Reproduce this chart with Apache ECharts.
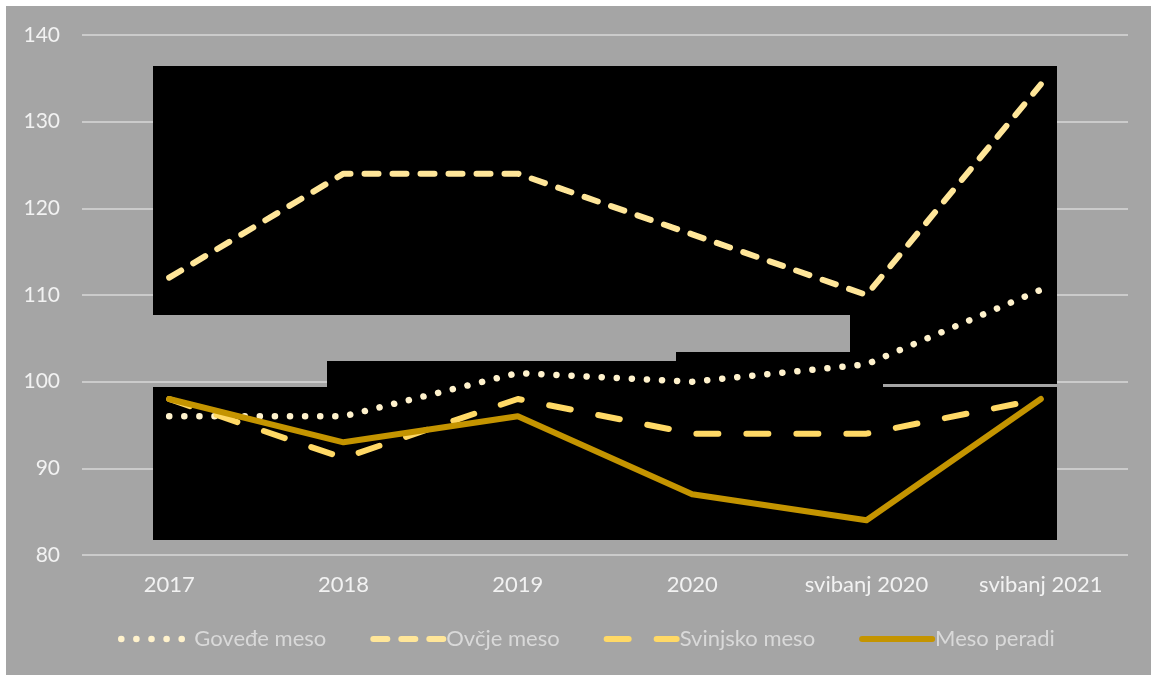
<!DOCTYPE html>
<html>
<head>
<meta charset="utf-8">
<script src="https://cdn.jsdelivr.net/npm/echarts@6/dist/echarts.min.js"></script>
<style>
html,body{margin:0;padding:0;background:#ffffff;width:1151px;height:675px;overflow:hidden;}
#chart{position:absolute;left:6px;top:6px;width:1145px;height:669px;}
</style>
</head>
<body>
<div id="chart"></div>
<script>
var categories = ['2017', '2018', '2019', '2020', 'svibanj 2020', 'svibanj 2021'];
var govedjeMeso = [96, 96, 101, 100, 102, 110.6];
var ovcjeMeso = [112, 124, 124, 117, 110, 134.3];
var svinjskoMeso = [98, 91.2, 98, 94, 94, 98];
var mesoPeradi = [98, 93, 96, 87, 84, 98];
var yTicks = { min: 80, max: 140, interval: 10 };

var FONT = 'Lato, "Open Sans", sans-serif';

// decorative black panels seen behind the lines in the reference (pixel boxes: x1,y1,x2,y2)
var panels = [
  [147, 60, 1051, 309],
  [321, 355, 670, 382],
  [670, 346, 844, 382],
  [844, 309, 877, 382],
  [877, 309, 1051, 378],
  [147, 381, 1051, 534]
];

var styles = {
  'Goveđe meso':   { color: '#fff2cc', width: 6.5, type: [0.1, 15] },
  'Ovčje meso':    { color: '#ffe699', width: 6,   type: [14, 14] },
  'Svinjsko meso': { color: '#ffd966', width: 6,   type: [22, 28] },
  'Meso peradi':   { color: '#c49400', width: 6,   type: 'solid' }
};

var chart = echarts.init(document.getElementById('chart'), null, { renderer: 'canvas' });

function line(name, data) {
  var s = styles[name];
  return {
    name: name,
    type: 'line',
    data: data,
    symbol: 'none',
    smooth: false,
    z: 5,
    lineStyle: { color: s.color, width: s.width, type: s.type, cap: 'round', join: 'round' },
    itemStyle: { color: s.color },
    emphasis: { disabled: true }
  };
}

var legendNames = ['Goveđe meso', 'Ovčje meso', 'Svinjsko meso', 'Meso peradi'];

chart.setOption({
  backgroundColor: '#a5a5a5',
  animation: false,
  grid: { left: 76, right: 23, top: 29, bottom: 120, containLabel: false },
  graphic: panels.map(function (p) {
    return {
      type: 'rect',
      z: 1,
      silent: true,
      shape: { x: p[0], y: p[1], width: p[2] - p[0], height: p[3] - p[1] },
      style: { fill: '#000000' }
    };
  }),
  legend: {
    left: 107,
    bottom: 20,
    itemWidth: 70,
    itemHeight: 8,
    itemGap: 44,
    itemStyle: { opacity: 0 },
    textStyle: { color: '#d9d9d9', fontSize: 22, fontFamily: FONT, padding: [0, 0, 0, -2] },
    data: legendNames.map(function (n) {
      var s = styles[n];
      return {
        name: n,
        itemStyle: { opacity: 0 },
        lineStyle: { color: s.color, width: s.width, type: s.type, cap: 'round', opacity: 1 }
      };
    })
  },
  xAxis: {
    type: 'category',
    data: categories,
    boundaryGap: true,
    axisLine: { show: false },
    axisTick: { show: false },
    axisLabel: { color: '#f2f2f2', fontSize: 22, fontFamily: FONT, margin: 19 }
  },
  yAxis: {
    type: 'value',
    min: yTicks.min,
    max: yTicks.max,
    interval: yTicks.interval,
    axisLine: { show: false },
    axisTick: { show: false },
    axisLabel: { color: '#f2f2f2', fontSize: 21, fontFamily: FONT, margin: 22 },
    splitLine: { lineStyle: { color: '#d9d9d9', width: 1.5 } }
  },
  series: legendNames.map(function (n, i) {
    return line(n, [govedjeMeso, ovcjeMeso, svinjskoMeso, mesoPeradi][i]);
  })
});
</script>
</body>
</html>
